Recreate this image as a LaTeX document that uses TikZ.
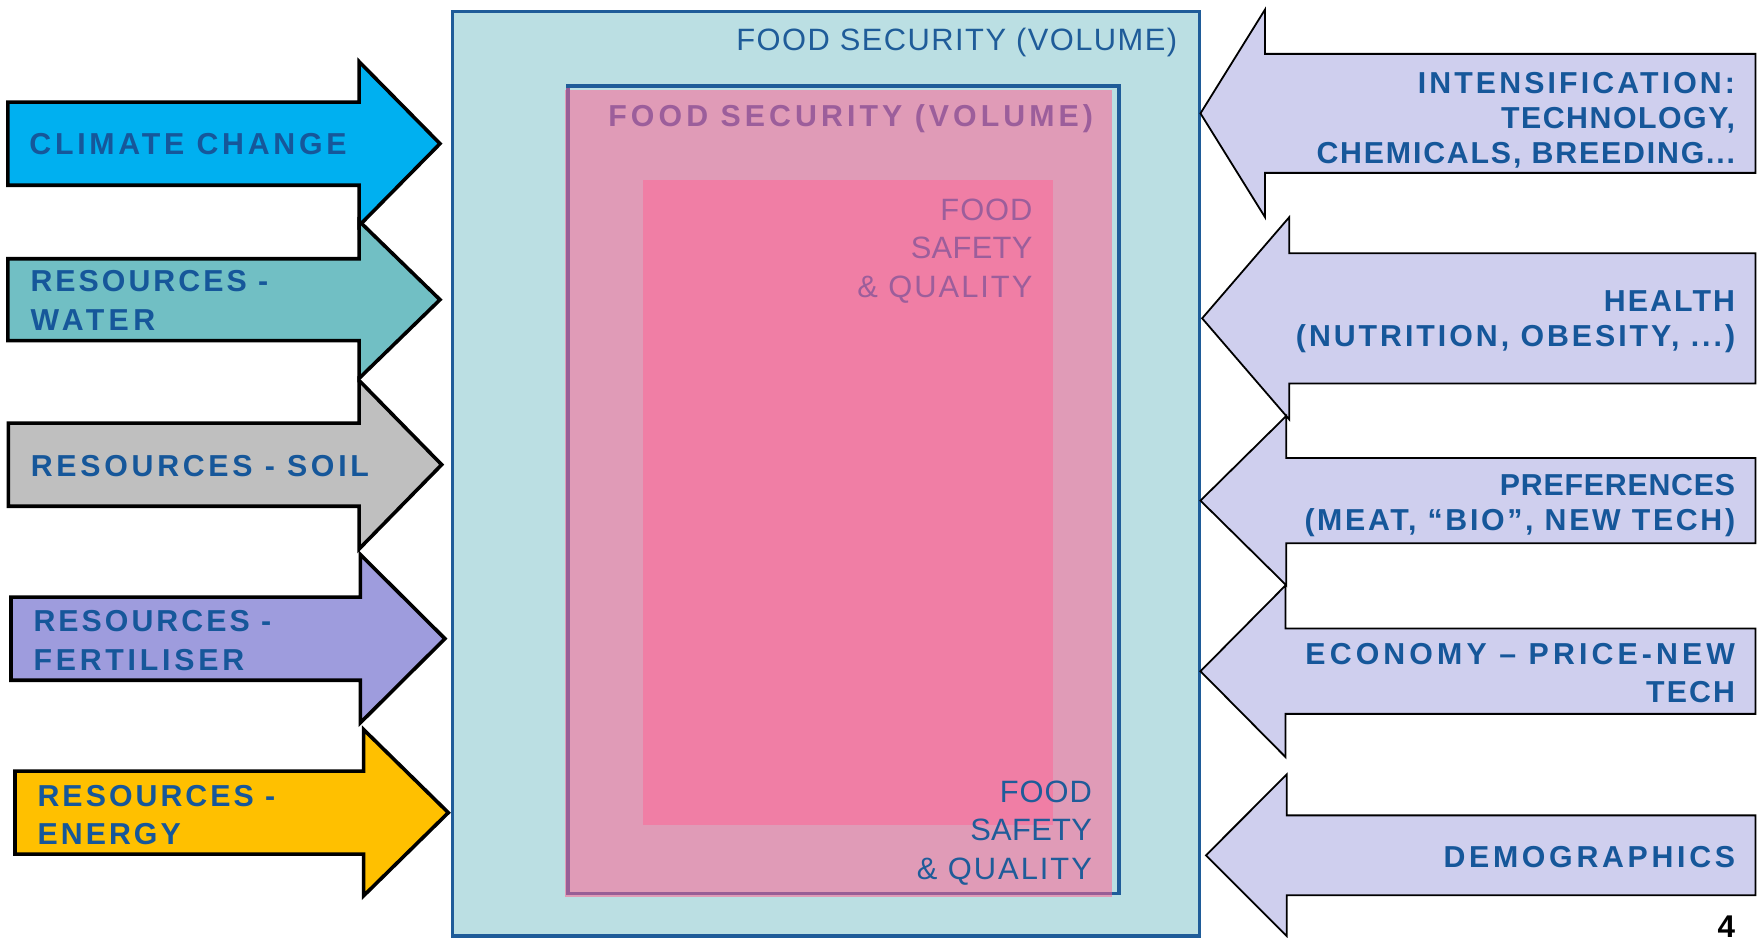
\documentclass[tikz,border=0pt]{standalone}
\usepackage{fontspec}
\setmainfont{Liberation Sans}
\newfontfamily\lblL{Liberation Sans}[LetterSpace=10]
\newfontfamily\lblR{Liberation Sans}[LetterSpace=7]
\newfontfamily\regF{Liberation Sans}[LetterSpace=3]
\newfontfamily\ttlF{Liberation Sans}[LetterSpace=13.4]
\newcommand\lsp[2]{{\addfontfeature{LetterSpace=#1}#2}}
\definecolor{outerfill}{HTML}{BBDFE3}
\definecolor{boxblue}{HTML}{1F5C99}
\definecolor{txtblue}{HTML}{16579A}
\definecolor{midpink}{HTML}{E09BB7}
\definecolor{hotpink}{HTML}{F07EA5}
\definecolor{mauve}{HTML}{9C5E9B}
\definecolor{purpline}{HTML}{985E96}
\definecolor{cclimate}{HTML}{00B0F0}
\definecolor{cwater}{HTML}{71BFC4}
\definecolor{csoil}{HTML}{BFBFBF}
\definecolor{cfert}{HTML}{9E9CDD}
\definecolor{cenergy}{HTML}{FFC000}
\definecolor{crarrow}{HTML}{CFCFEE}
\newcommand\myLeftArrow[7]{%
  \draw[larrow, fill=#7] (#1,#4-#5) -- (#2,#4-#5) -- (#2,#4-#6) -- (#3,#4)
    -- (#2,#4+#6) -- (#2,#4+#5) -- (#1,#4+#5) -- cycle;}
\newcommand\myRightArrow[6]{%
  \draw[rarrowshape] (1564,#4-#5) -- (#1,#4-#5) -- (#1,#4-#6) -- (#2,#4)
    -- (#1,#4+#6) -- (#1,#4+#5) -- (1564,#4+#5) -- cycle;}
\tikzset{
  larrow/.style={draw=black, line width=3.2pt, line join=miter},
  rarrowshape/.style={draw=black, line width=1.6pt, fill=crarrow, line join=miter},
  lbl/.style={inner sep=0pt, text=txtblue, font=\lblL\bfseries\fontsize{27}{34}\selectfont, align=left, anchor=base west},
  rlbl/.style={inner sep=0pt, text=txtblue, font=\lblR\bfseries\fontsize{27}{31.2}\selectfont, align=right, anchor=base east},
  regtxt/.style={inner sep=0pt, font=\regF\fontsize{27.5}{34.3}\selectfont, align=right, anchor=base east},
  ttltxt/.style={inner sep=0pt, text=mauve, font=\ttlF\bfseries\fontsize{27}{34}\selectfont, anchor=base east},
}
\begin{document}
\begin{tikzpicture}[x=1pt, y=-1pt]
\useasboundingbox (0,0) rectangle (1568,834.8);
% outer box
\draw[line width=3pt, draw=boxblue, fill=outerfill] (403,10) rectangle (1068.5,834);
% middle box
\draw[line width=3.5pt, draw=boxblue] (506,77) rectangle (996.5,796);
\fill[midpink] (503,80) rectangle (991,799);
\draw[line width=3.5pt, draw=purpline] (506,78) -- (506,796) -- (991,796);
% inner box
\fill[hotpink] (573,160) rectangle (938,735);
% texts of boxes
\node[regtxt, text=boxblue] (outertitle) at (1049,45) {\lsp{4.7}{FOOD SECURITY (VOLUME)}};
\node[ttltxt] (midtitle) at (974,112.8) {FOOD SECURITY (VOLUME)};
\node[regtxt, text=mauve] (innertext) at (920,264.6) {\lsp{3}{FOOD}\\\lsp{1}{SAFETY}\\\lsp{6.4}{\& QUALITY}};
\node[regtxt, text=boxblue] (bottomtext) at (973,783.4) {\lsp{3}{FOOD}\\\lsp{1}{SAFETY}\\\lsp{6.4}{\& QUALITY}};
% left arrows
\myLeftArrow{7}{320}{392}{128}{37}{73}{cclimate}
\myLeftArrow{7}{320}{392}{267}{36.5}{70}{cwater}
\myLeftArrow{7.4}{320}{393.5}{414}{37}{75}{csoil}
\myLeftArrow{9.8}{321}{396.4}{569}{37}{75}{cfert}
\myLeftArrow{13.4}{324}{399.4}{724}{37}{74}{cenergy}
% right arrows
\myRightArrow{1127}{1069.5}{}{101}{53}{92.5}
\myRightArrow{1148.5}{1071}{}{283.6}{58}{90}
\myRightArrow{1146}{1069.5}{}{446}{38}{75.5}
\myRightArrow{1145.3}{1069.5}{}{598}{38}{76.5}
\myRightArrow{1146.3}{1074.4}{}{762}{35.6}{72}
% left labels (anchor = baseline of last line)
\node[lbl] (lclimate) at (26,138) {\lsp{12.4}{CLIMATE CHANGE}};
\node[lbl] (lwater) at (27,294) {RESOURCES -\\\lsp{14.4}{WATER}};
\node[lbl] (lsoil) at (27.3,424.7) {\lsp{12.3}{RESOURCES - SOIL}};
\node[lbl] (lfert) at (29.7,597) {RESOURCES -\\\lsp{12.4}{FERTILISER}};
\node[lbl] (lenergy) at (33.3,752.8) {RESOURCES -\\ENERGY};
% right labels (anchor = baseline of last line)
\node[rlbl] (rintens) at (1546,145.5) {\lsp{10.3}{INTENSIFICATION:}\\\lsp{5}{TECHNOLOGY,}\\\lsp{6}{CHEMICALS, BREEDING...}};
\node[rlbl] (rhealth) at (1546,308.8) {HEALTH\\\lsp{9.8}{(NUTRITION, OBESITY, ...)}};
\node[rlbl] (rpref) at (1546,472.3) {\lsp{2.6}{PREFERENCES}\\\lsp{8.8}{(MEAT, “BIO”, NEW TECH)}};
\node[rlbl, font=\lblR\bfseries\fontsize{27}{33.5}\selectfont] (recon) at (1546,625.7) {\lsp{13.6}{ECONOMY – PRICE-NEW}\\TECH};
\node[rlbl] (rdemo) at (1546,772.8) {\lsp{12.2}{DEMOGRAPHICS}};
% page number
\node[inner sep=0pt, anchor=base east, font=\bfseries\fontsize{28}{28}\selectfont] (pagenum) at (1546,835.5) {4};
\end{tikzpicture}
\end{document}
